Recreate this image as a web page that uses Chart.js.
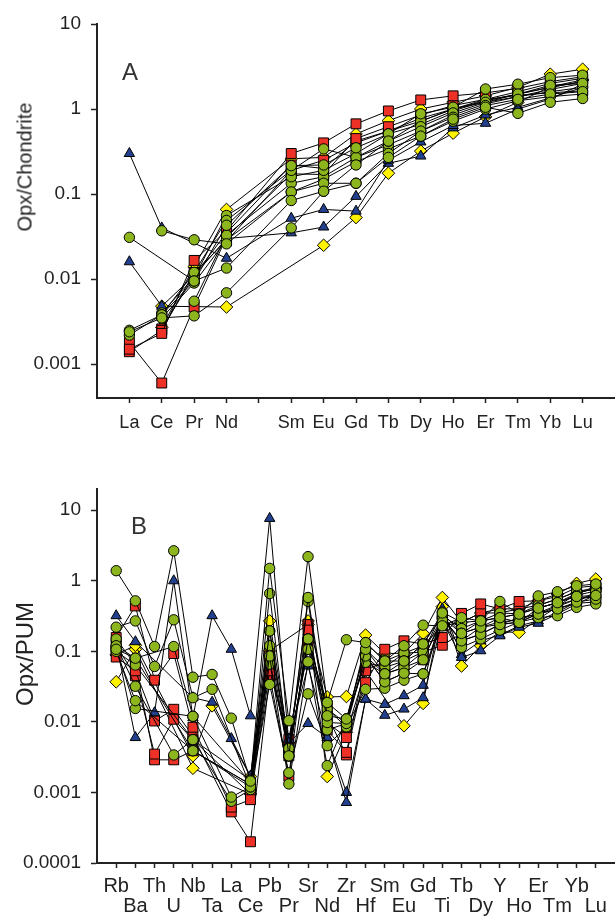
<!DOCTYPE html>
<html>
<head>
<meta charset="utf-8">
<script src="https://cdn.jsdelivr.net/npm/chart.js@4/dist/chart.umd.min.js"></script>
<style>
  html, body { margin:0; padding:0; background:#fff; }
  body { width:615px; height:917px; position:relative; overflow:hidden; font-family:'Liberation Sans', Arial, sans-serif; color:#222; }
  canvas { position:absolute; left:0; }
  #cA { top:0; }
  #cB { top:440px; }
  .ytitle { position:absolute; white-space:nowrap; transform:translate(-50%,-50%) rotate(-90deg); color:#222; }
  .letter { position:absolute; font-size:24px; transform:translate(-50%,-50%); color:#333; }
</style>
</head>
<body>
<canvas id="cA" width="624" height="440"></canvas>
<canvas id="cB" width="623" height="477"></canvas>
<div class="ytitle" style="left:25px; top:167px; font-size:20px;">Opx/Chondrite</div>
<div class="ytitle" style="left:25px; top:654px; font-size:24px;">Opx/PUM</div>
<div class="letter" style="left:130px; top:72px;">A</div>
<div class="letter" style="left:139px; top:526px;">B</div>
<script>
// ---------- Panel A : chondrite-normalised REE ----------
const catsA = ['La','Ce','Pr','Nd','','Sm','Eu','Gd','Tb','Dy','Ho','Er','Tm','Yb','Lu'];
const yTicksA = [0.001, 0.01, 0.1, 1, 10];
const yLabelsA = ['0.001','0.01','0.1','1','10'];

const A_green1 = [0.031, null, 0.0095, 0.0135, null, 0.084, 0.108, 0.134, 0.27, 0.48, 0.76, 1.05, 0.89, 1.2, 1.33];
const A_green2 = [null, 0.037, 0.029, 0.026, null, 0.106, 0.134, 0.134, 0.30, 0.55, 0.80, 1.1, 1.3, 1.5, 1.6];
const A_green3 = [0.0024, 0.0035, 0.0037, 0.0069, null, 0.040, 0.108, 0.22, 0.42, 0.62, 0.90, 1.2, 1.5, 1.9, 2.0];
const A_green4 = [0.0025, 0.0038, 0.0095, 0.043, null, 0.216, 0.22, 0.35, 0.51, 0.88, 1.05, 1.72, 1.96, 2.34, 2.5];
const A_green5 = [0.0022, 0.0038, 0.012, 0.049, null, 0.19, 0.34, 0.27, 0.42, 0.72, 1.0, 1.3, 1.6, 2.0, 2.3];
const A_green6 = [null, 0.004, 0.0105, 0.056, null, 0.16, 0.19, 0.30, 0.51, 0.66, 0.95, 1.25, 1.5, 1.8, 2.1];
const A_green7 = [null, null, 0.0055, 0.033, null, 0.134, 0.16, 0.27, 0.38, 0.55, 0.85, 1.15, 1.4, 1.6, 1.8];
const A_green8 = [null, 0.0035, 0.009, 0.029, null, 0.106, 0.15, 0.24, 0.34, 0.48, 0.72, 1.0, 1.25, 1.4, 1.5];
const A_blue1  = [0.30, 0.040, null, 0.0176, null, 0.052, 0.066, 0.063, 0.25, 0.41, 0.64, 0.68, 1.0, 1.31, 1.96];
const A_blue2  = [0.016, 0.0048, 0.011, 0.030, null, 0.035, 0.041, 0.094, 0.23, 0.28, 0.60, 0.85, 1.05, 1.35, 1.8];
const A_red1   = [0.0015, 0.0023, 0.0166, 0.037, null, 0.30, 0.40, 0.67, 0.95, 1.28, 1.43, 1.55, 1.75, 2.1, 2.4];
const A_red2   = [0.0018, 0.0006, 0.0047, 0.031, null, 0.173, 0.17, 0.45, 0.62, 0.85, 1.1, 1.3, 1.45, 1.55, 1.64];
const A_red3   = [0.0014, 0.0025, 0.012, 0.028, null, 0.19, 0.25, 0.40, 0.55, 0.78, 1.0, 1.2, 1.4, 1.7, 2.0];
const A_red4   = [null, 0.0026, 0.011, 0.035, null, 0.22, 0.20, 0.42, 0.55, 0.72, 1.0, 1.25, 1.5, 1.8, 2.1];
const A_yellow1 = [null, 0.0027, 0.014, 0.066, null, 0.26, 0.27, 0.51, 0.73, 1.0, 1.2, 1.43, 1.8, 2.57, 2.94];
const A_yellow2 = [null, 0.0048, null, 0.0047, null, null, 0.025, 0.053, 0.176, 0.32, 0.52, 0.81, 1.2, 1.83, 2.2];

// ---------- Panel B : PUM-normalised trace elements ----------
const catsB = ['Rb','Ba','Th','U','Nb','Ta','La','Ce','Pb','Pr','Sr','Nd','Zr','Hf','Sm','Eu','Gd','Ti','Tb','Dy','Y','Ho','Er','Tm','Yb','Lu'];
const yTicksB = [0.0001, 0.001, 0.01, 0.1, 1, 10];
const yLabelsB = ['0.0001','0.001','0.01','0.1','1','10'];

//                Rb     Ba     Th      U       Nb      Ta     La       Ce       Pb    Pr      Sr     Nd      Zr      Hf     Sm     Eu     Gd     Ti    Tb     Dy    Y     Ho    Er    Tm    Yb    Lu
const B_green1 = [1.39, 0.52,  0.117,  2.66,   0.043,  0.047, 0.0113,  0.00145, 1.5,  0.0104, 2.2,  0.0188, 0.146,  0.133, 0.073, 0.12,  0.235, 0.23, 0.30,  0.27, 0.51, 0.337,0.61, 0.70, 0.85, 0.90];
const B_green2 = [0.22, 0.27,  0.061,  0.28,   0.022,  0.029, null,    0.0012,  0.66, 0.0033, 0.58, 0.0122, 0.011,  0.107, 0.048, 0.073, 0.127, 0.35, 0.18,  0.22, 0.30, 0.257,0.41, 0.49, 0.60, 0.62];
const B_green3 = [0.107,0.08,  null,   0.117,  0.012,  null,  0.00086, 0.0012,  0.195,0.0042, 0.51, 0.0098, 0.0095, 0.086, 0.037, 0.049, 0.076, 0.28, 0.141, 0.175,0.24, 0.30, 0.337,0.40, 0.50, 0.55];
const B_green4 = [0.12, 0.032, null,   0.0034, 0.0056, null,  0.00075, 0.0011,  0.034,0.0019, 0.025,0.0046, 0.0085, 0.029, 0.030, 0.039, 0.048, 0.25, 0.114, 0.15, 0.20, 0.26, 0.30, 0.32, 0.42, 0.47];
const B_green5 = [0.10, 0.020, null,   null,   0.0039, null,  null,    0.0013,  0.086,0.00132,0.071,0.0024, 0.011,  0.070, 0.048, 0.059, 0.098, 0.30, 0.18,  0.22, 0.26, 0.28, 0.35, 0.45, 0.55, 0.60];
const B_green6 = [0.11, 0.0155,null,   null,   0.012,  null,  null,    0.0014,  0.12, 0.0033, 0.15, 0.0152, 0.0095, 0.133, 0.073, 0.073, 0.127, 0.32, 0.21,  0.27, 0.30, 0.34, 0.41, 0.49, 0.62, 0.72];
const B_green7 = [0.15, 0.064, null,   null,   0.0056, null,  null,    0.0015,  0.066,0.0042, 0.107,0.0188, 0.011,  0.107, 0.059, 0.094, 0.098, 0.36, 0.257, 0.27, 0.35, 0.34, 0.45, 0.55, 0.70, 0.75];
const B_green8 = [0.12, 0.08,  null,   null,   0.0039, null,  null,    0.0013,  0.195,0.0033, 0.15, 0.0077, 0.0095, 0.086, 0.037, 0.049, 0.048, 0.30, 0.141, 0.175,0.24, 0.26, 0.34, 0.40, 0.48, 0.50];
const B_blue1  = [0.13, 0.006, 0.0135, 1.0,    0.0115, 0.32,  0.107,   0.0122,  7.66, 0.0050, 0.0095,0.006, 0.00072,0.021, 0.0124,0.0152,0.022, 0.27, 0.082, 0.102,0.166,0.22, 0.25, 0.34, 0.47, 0.63];
const B_blue2  = [0.32, 0.137, null,   null,   0.022,  0.019, 0.0058,  0.0017,  0.12, 0.0057, 0.062,0.006,  0.001,  0.021, 0.0177,0.0235,0.033, 0.40, 0.09,  0.141,0.17, 0.23, 0.27, 0.36, 0.50, 0.70];
const B_red1   = [0.157,0.44,  0.039,  0.093,  0.0084, null,  0.00062, 0.00079, 0.053,0.0057, 0.20, 0.0098, 0.006,  0.036, 0.107, 0.141, 0.127, 0.157,0.345, 0.47, 0.40, 0.51, 0.52, 0.60, 0.80, 0.85];
const B_red2   = [0.083,0.053, 0.0103, 0.0151, 0.0063, null,  0.00053, 0.0002,  0.045,0.0017, 0.24, 0.0077, 0.0037, 0.070, 0.059, 0.073, 0.098, 0.122,0.18,  0.27, 0.30, 0.34, 0.41, 0.49, 0.66, 0.79];
const B_red3   = [0.12, 0.045, 0.0035, 0.0109, 0.0056, null,  null,    0.00095, 0.066,0.0042, 0.107,0.0122, 0.0034, 0.053, 0.073, 0.094, 0.12,  0.23, 0.257, 0.35, 0.35, 0.40, 0.45, 0.55, 0.70, 0.80];
const B_red4   = [0.10, 0.064, 0.0029, 0.0029, 0.0039, null,  null,    0.0012,  0.086,0.0033, 0.15, 0.0152, 0.0085, 0.086, 0.048, 0.059, 0.076, 0.30, 0.141, 0.22, 0.24, 0.26, 0.34, 0.43, 0.55, 0.63];
const B_yellow1 = [0.089,0.122,null,   null,   0.0033, 0.0169,null,    0.00168, 0.27, 0.0050, 0.27, 0.0226, 0.0229, 0.17,  0.093, 0.094, 0.18,  0.58, 0.257, 0.35, 0.40, 0.40, 0.52, 0.65, 0.92, 1.06];
const B_yellow2 = [0.037,0.107,null,   null,   0.0022, null,  null,    0.00095, 0.102,null,   0.24, 0.00168,0.0071, 0.053, null,  0.0088,0.0183,0.43, 0.062, 0.12, 0.19, 0.185,0.287,0.43, 0.66, 0.79];

const STYLE = {
  green:  { bg:'#8DB51D', shape:'circle',   r:5.2 },
  blue:   { bg:'#22408E', shape:'triangle', r:6 },
  red:    { bg:'#EE3126', shape:'rect',     r:7 },
  yellow: { bg:'#FFF200', shape:'rectRot',  r:6.3 }
};

const seriesA = [
  ['green',A_green1],['green',A_green2],['green',A_green3],['green',A_green4],['green',A_green5],['green',A_green6],['green',A_green7],['green',A_green8],
  ['blue',A_blue1],['blue',A_blue2],
  ['red',A_red1],['red',A_red2],['red',A_red3],['red',A_red4],
  ['yellow',A_yellow1],['yellow',A_yellow2]
];
const seriesB = [
  ['green',B_green1],['green',B_green2],['green',B_green3],['green',B_green4],['green',B_green5],['green',B_green6],['green',B_green7],['green',B_green8],
  ['blue',B_blue1],['blue',B_blue2],
  ['red',B_red1],['red',B_red2],['red',B_red3],['red',B_red4],
  ['yellow',B_yellow1],['yellow',B_yellow2]
];

const FONT = "'Liberation Sans', Arial, sans-serif";
const AXIS = '#222';

function makeChart(id, labels, series, yMin, yMax, yTicks, yLabels, opt) {
  const padded = [''].concat(labels, ['']);
  const last = padded.length - 1;
  const datasets = series.map(([g, vals]) => {
    const s = STYLE[g];
    return {
      data: [null].concat(vals, [null]),
      borderColor:'#000', borderWidth:1, tension:0, spanGaps:true, fill:false,
      pointStyle:s.shape, pointRadius:s.r, pointHoverRadius:s.r,
      pointBackgroundColor:s.bg, pointBorderColor:'#000', pointBorderWidth:1
    };
  });
  return new Chart(document.getElementById(id), {
    type:'line',
    data:{ labels: padded.map(opt.labelFmt), datasets },
    options:{
      responsive:false, animation:false, events:[],
      layout:{ padding:{ top:opt.top, right:0, bottom:0, left:0 } },
      plugins:{ legend:{display:false}, tooltip:{enabled:false} },
      scales:{
        x:{
          type:'category', offset:false,
          grid:{ display:true, drawOnChartArea:false, drawTicks:true, tickLength:5, tickWidth:1.5,
                 tickColor:(ctx)=> (ctx.index===0||ctx.index===last) ? 'rgba(0,0,0,0)' : AXIS },
          border:{ display:true, color:AXIS, width:2 },
          ticks:{ autoSkip:false, maxRotation:0, minRotation:0, padding:opt.xPad, color:'#222',
                  font:{ family:FONT, size:opt.xFont, lineHeight:opt.xLH } },
          afterFit:(s)=>{ s.height = opt.xH; }
        },
        y:{
          type:'logarithmic', min:yMin, max:yMax,
          afterBuildTicks:(s)=>{ s.ticks = yTicks.map(v=>({value:v, major:true})); },
          grid:{ display:true, drawOnChartArea:false, drawTicks:true, tickLength:6, tickWidth:1.5, tickColor:AXIS },
          border:{ display:true, color:AXIS, width:2 },
          ticks:{ autoSkip:false, padding:10, color:'#222', font:{ family:FONT, size:19 },
                  callback:(v,i)=> yLabels[i] },
          afterFit:(s)=>{ s.width = 97; }
        }
      }
    }
  });
}

makeChart('cA', catsA, seriesA, 0.0004, 10, yTicksA, yLabelsA,
  { top:24, xH:42, xPad:9, xFont:18, xLH:1.2, labelFmt:(l)=>l });
makeChart('cB', catsB, seriesB, 0.0001, 20, yTicksB, yLabelsB,
  { top:49, xH:54, xPad:8, xFont:20, xLH:1.0,
    labelFmt:(l)=>{ const i = catsB.indexOf(l); if (l==='' || i<0) return ''; return (i%2===0) ? [l,''] : ['',l]; } });
</script>
</body>
</html>
